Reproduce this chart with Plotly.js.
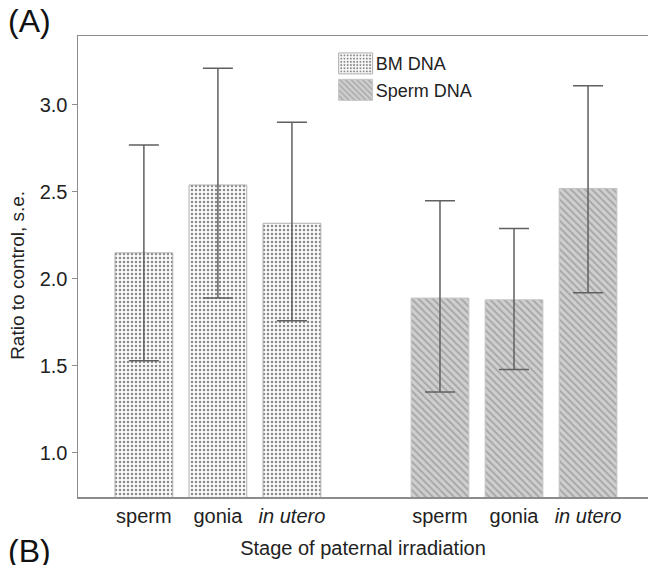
<!DOCTYPE html>
<html><head><meta charset="utf-8">
<script src="https://cdn.plot.ly/plotly-3.0.1.min.js"></script>
<style>body{margin:0;background:#fff}#chart{width:648px;height:565px}</style>
</head><body><div id="chart"></div>
<script>
// categories / tick labels
const stages = ['sperm', 'gonia', '<i>in utero</i>'];
const bmPos = [0, 1, 2];
const spPos = [4, 5, 6];
// BM DNA
const bmValues = [2.15, 2.54, 2.32];
const bmUpper  = [2.77, 3.21, 2.90];
const bmLower  = [1.53, 1.89, 1.76];
// Sperm DNA
const spValues = [1.89, 1.88, 2.52];
const spUpper  = [2.45, 2.29, 3.11];
const spLower  = [1.35, 1.48, 1.92];

const diff = (a, b) => a.map((v, i) => v - b[i]);
const errStyle = {color: '#606060', thickness: 1.5, width: 15};

const traces = [
  {
    type: 'bar', name: 'BM DNA', x: bmPos, y: bmValues, width: 0.78,
    marker: {color: '#fbfbfb', line: {color: '#b0b0b0', width: 1},
      pattern: {shape: '.', fgcolor: '#8a8a8a', bgcolor: '#fbfbfb', size: 4, solidity: 0.3}},
    error_y: Object.assign({type: 'data', symmetric: false,
      array: diff(bmUpper, bmValues), arrayminus: diff(bmValues, bmLower)}, errStyle)
  },
  {
    type: 'bar', name: 'Sperm DNA', x: spPos, y: spValues, width: 0.78,
    marker: {color: '#cacaca', line: {color: '#c4c4c4', width: 1},
      pattern: {shape: '\\', fgcolor: '#a6a6a6', bgcolor: '#cfcfcf', size: 5, solidity: 0.35}},
    error_y: Object.assign({type: 'data', symmetric: false,
      array: diff(spUpper, spValues), arrayminus: diff(spValues, spLower)}, errStyle)
  }
];

const font = {family: 'Liberation Sans, Arial, sans-serif', color: '#222'};
const layout = {
  width: 648, height: 565,
  margin: {l: 78, r: 0, t: 36, b: 68},
  paper_bgcolor: '#fff', plot_bgcolor: '#fff',
  barmode: 'overlay',
  font: Object.assign({size: 20}, font),
  showlegend: true,
  legend: {x: 0.452, y: 0.98, xanchor: 'left', yanchor: 'top',
    font: Object.assign({size: 18}, font), bgcolor: 'rgba(0,0,0,0)',
    itemwidth: 30, tracegroupgap: 0},
  xaxis: {
    range: [-0.89, 6.81], tickvals: bmPos.concat(spPos), ticktext: stages.concat(stages),
    showgrid: false, zeroline: false, ticks: '', showline: true, mirror: true,
    linecolor: '#8c8c8c', linewidth: 1.5, tickfont: Object.assign({size: 20}, font),
    title: {text: 'Stage of paternal irradiation', font: Object.assign({size: 20}, font), standoff: 15}
  },
  yaxis: {
    range: [0.747, 3.396], tickvals: [1.0, 1.5, 2.0, 2.5, 3.0], tickformat: '.1f',
    showgrid: false, zeroline: false, ticks: 'outside', ticklen: 5, tickcolor: '#8c8c8c',
    showline: true, linecolor: '#8c8c8c', linewidth: 1.5,
    tickfont: Object.assign({size: 20}, font)
  },
  annotations: [
    {text: 'Ratio to control, s.e.', xref: 'paper', yref: 'paper', x: -0.105, y: 0.48,
     xanchor: 'center', yanchor: 'middle', textangle: -90, showarrow: false,
     font: Object.assign({size: 19}, font)},
    {text: '(A)', xref: 'paper', yref: 'paper', x: -0.126, y: 1.033, xanchor: 'left', yanchor: 'middle',
     showarrow: false, font: Object.assign({size: 32}, font, {color: '#111'})},
    {text: '(B)', xref: 'paper', yref: 'paper', x: -0.126, y: -0.074, xanchor: 'left', yanchor: 'top',
     showarrow: false, font: Object.assign({size: 32}, font, {color: '#111'})}
  ]
};

Plotly.newPlot('chart', traces, layout, {displayModeBar: false, staticPlot: true}).then(gd => {
  // enlarge legend swatches to match the reference's wide boxes
  gd.querySelectorAll('.legend .legendpoints path').forEach(p => {
    p.setAttribute('d', 'M17,10.5H-17V-10.5H17Z');
  });
});
</script>
</body></html>
